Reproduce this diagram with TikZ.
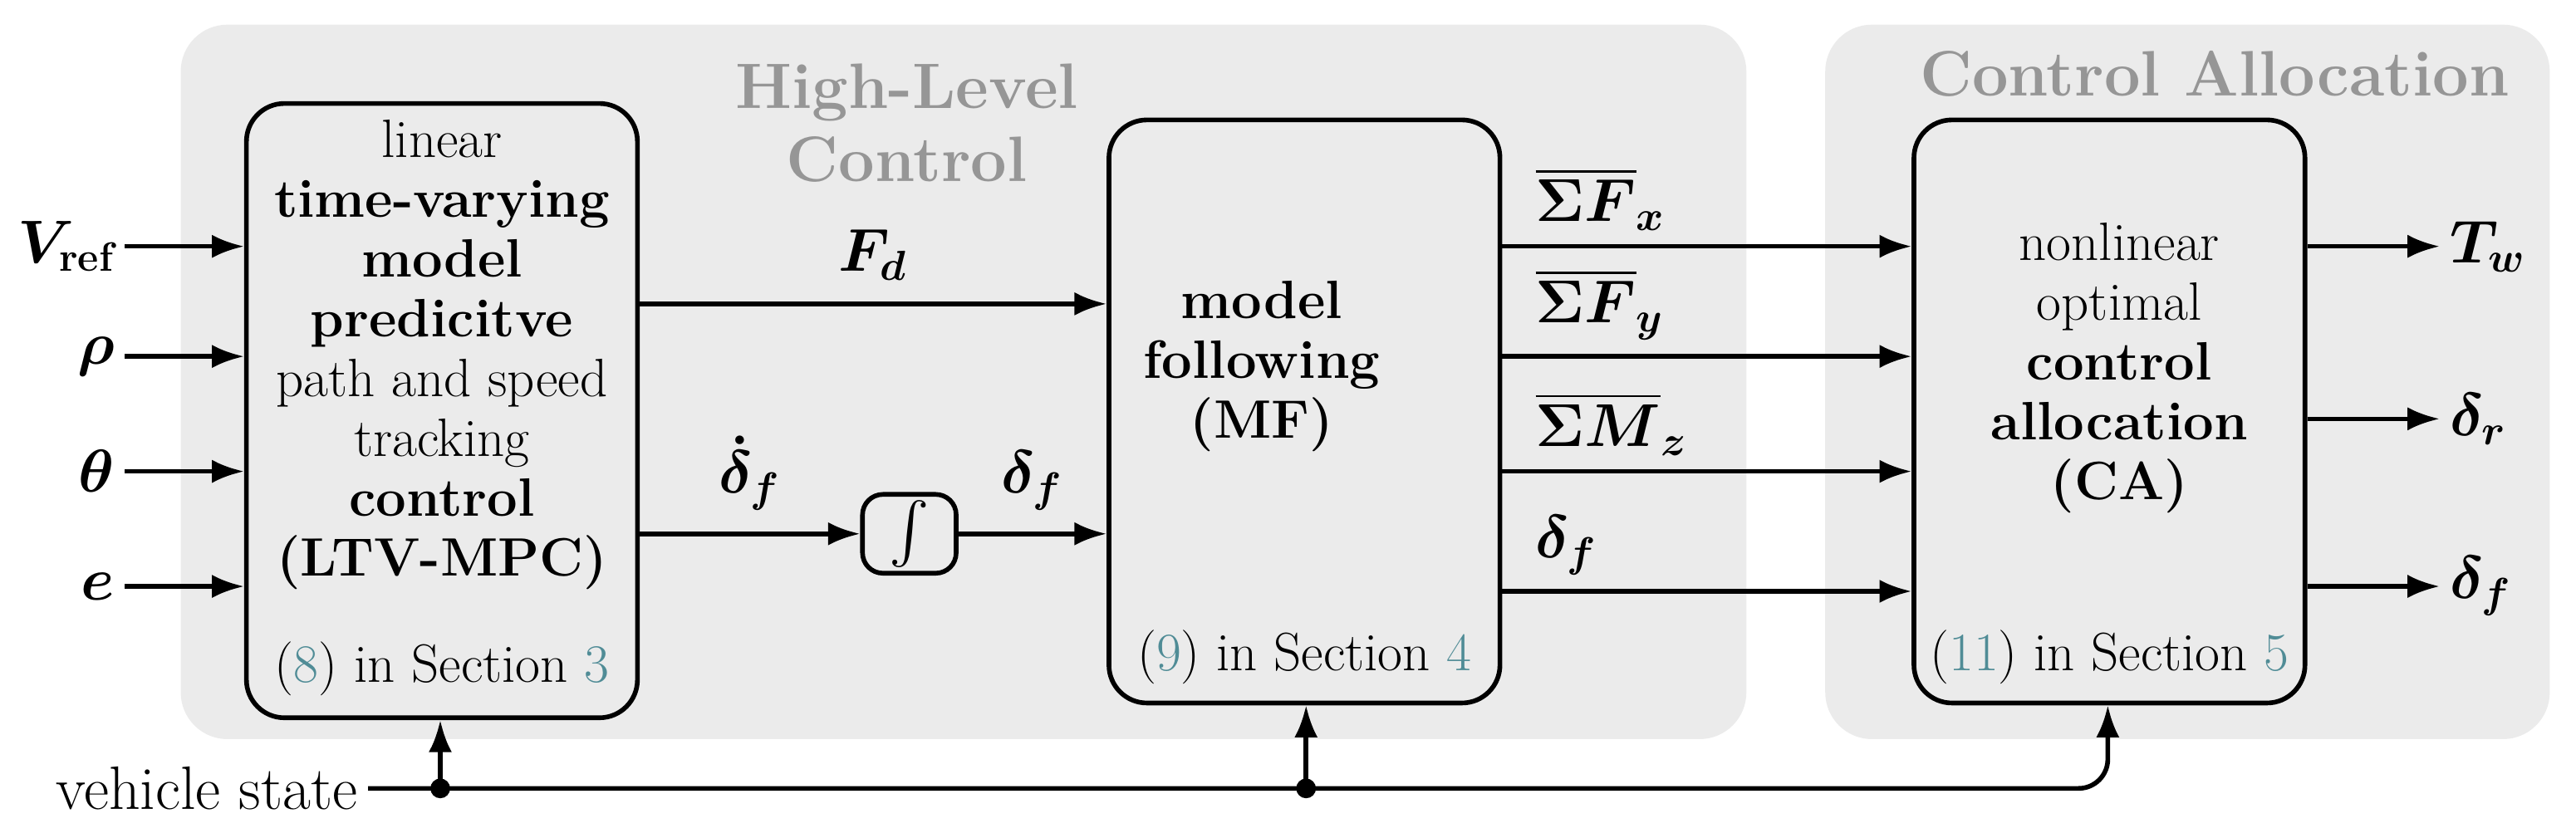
\documentclass[tikz,border=0pt]{standalone}
\usepackage{amsmath,bm}
\usetikzlibrary{arrows.meta}
\definecolor{panel}{RGB}{235,235,235}
\definecolor{ttl}{RGB}{150,150,150}
\definecolor{refc}{RGB}{80,140,150}
\begin{document}
\begin{tikzpicture}[x=0.01978cm,y=-0.01978cm,
  panel/.style={fill=panel,rounded corners=16pt},
  blk/.style={draw,line width=1.6pt,rounded corners=13pt,fill=panel},
  txt/.style={font=\fontsize{18.5}{20.5}\selectfont,align=center},
  ttlf/.style={font=\fontsize{22}{25}\selectfont\bfseries,text=ttl,align=center},
  lab/.style={font=\fontsize{20}{24}\selectfont},
  ar/.style={line width=1.6pt,-{Latex[length=11pt,width=8pt]}},
  ln/.style={line width=1.6pt}]
\useasboundingbox (0,0) rectangle (1568,504);
\path[panel] (110,15) rectangle (1063,450);
\path[panel] (1111,15) rectangle (1552,450);
\node[ttlf] (t1) at (552,75) {High-Level\\Control};
\node[ttlf] (t2) at (1348,45) {Control Allocation};
% blocks
\node[blk,minimum width=238*0.01978cm,minimum height=374*0.01978cm] (B1) at (269,250) {};
\node[blk,minimum width=238*0.01978cm,minimum height=355*0.01978cm] (B2) at (794,250.5) {};
\node[blk,minimum width=238*0.01978cm,minimum height=355*0.01978cm] (B3) at (1284,250.5) {};
\node[blk,rounded corners=7pt,minimum width=57*0.01978cm,minimum height=48*0.01978cm] (I) at (553.5,325) {};
\node[lab] (Iint) at (I) {$\int$};
\node[txt] (B1t) at (269,216) {linear\\ \textbf{time-varying}\\ \textbf{model}\\ \textbf{predicitve}\\ path and speed\\ tracking\\ \textbf{control}\\ \textbf{(LTV-MPC)}};
\node[txt] (B1r) at (269,407) {(\textcolor{refc}{8}) in Section \textcolor{refc}{3}};
\node[txt] (B2t) at (768,223) {\textbf{model}\\ \textbf{following}\\ \textbf{(MF)}};
\node[txt] (B2r) at (794,400) {(\textcolor{refc}{9}) in Section \textcolor{refc}{4}};
\node[txt] (B3t) at (1290,224) {nonlinear\\ optimal\\ \textbf{control}\\ \textbf{allocation}\\ \textbf{(CA)}};
\node[txt] (B3r) at (1284,400) {(\textcolor{refc}{11}) in Section \textcolor{refc}{5}};
% inputs
\foreach \y/\n/\t in {150/i1/{$\bm{V}_{\textbf{ref}}$},217/i2/{$\bm{\rho}$},287/i3/{$\bm{\theta}$},357/i4/{$\bm{e}$}}{
  \node[lab,anchor=east] (\n) at (76,\y) {\t};
  \draw[ar] (\n.east) -- (\n.east -| B1.west);
}
% internal
\coordinate (fd) at (B1.east |- 0,185);
\draw[ar] (fd) -- (fd -| B2.west) node[lab,midway,above=4pt] (lfd) {$\bm{F_d}$};
\draw[ar] (B1.east |- I) -- (I.west) node[lab,midway,above=4pt] (ldd) {$\bm{\dot\delta_f}$};
\draw[ar] (I.east) -- (I -| B2.west) node[lab,midway,above=4pt] (ld) {$\bm{\delta_f}$};
% MF outputs
\foreach \y/\n/\t in {150/o1/{$\overline{\bm{\Sigma F}}_{\bm{x}}$},217/o2/{$\overline{\bm{\Sigma F}}_{\bm{y}}$},287/o3/{$\overline{\bm{\Sigma M}}_{\bm{z}}$},360/o4/{$\bm{\delta_f}$}}{
  \coordinate (\n) at (B2.east |- 0,\y);
  \draw[ar] (\n) -- (\n -| B3.west);
  \node[lab,anchor=south west] (l\n) at ([xshift=14*0.01978cm,yshift=2pt]\n) {\t};
}
% CA outputs
\foreach \y/\n/\t in {150/c1/{$\bm{T_w}$},255/c2/{$\bm{\delta_r}$},357/c3/{$\bm{\delta_f}$}}{
  \coordinate (\n) at (B3.east |- 0,\y);
  \node[lab,anchor=west] (l\n) at (1485,\y) {\t};
  \draw[ar] (\n) -- (l\n.west);
}
% vehicle state
\node[font=\fontsize{21}{24}\selectfont,anchor=east] (vs) at (224,480) {vehicle state};
\coordinate (d1) at (268,480);
\coordinate (d2) at (795,480);
\draw[ln,rounded corners=10pt,-{Latex[length=11pt,width=8pt]}] (vs.east) -- (1283,480) -- (B3.south -| 1283,0);
\draw[ar] (d1) -- (d1 |- B1.south);
\draw[ar] (d2) -- (d2 |- B2.south);
\fill (d1) circle (6); \fill (d2) circle (6);
\end{tikzpicture}
\end{document}
